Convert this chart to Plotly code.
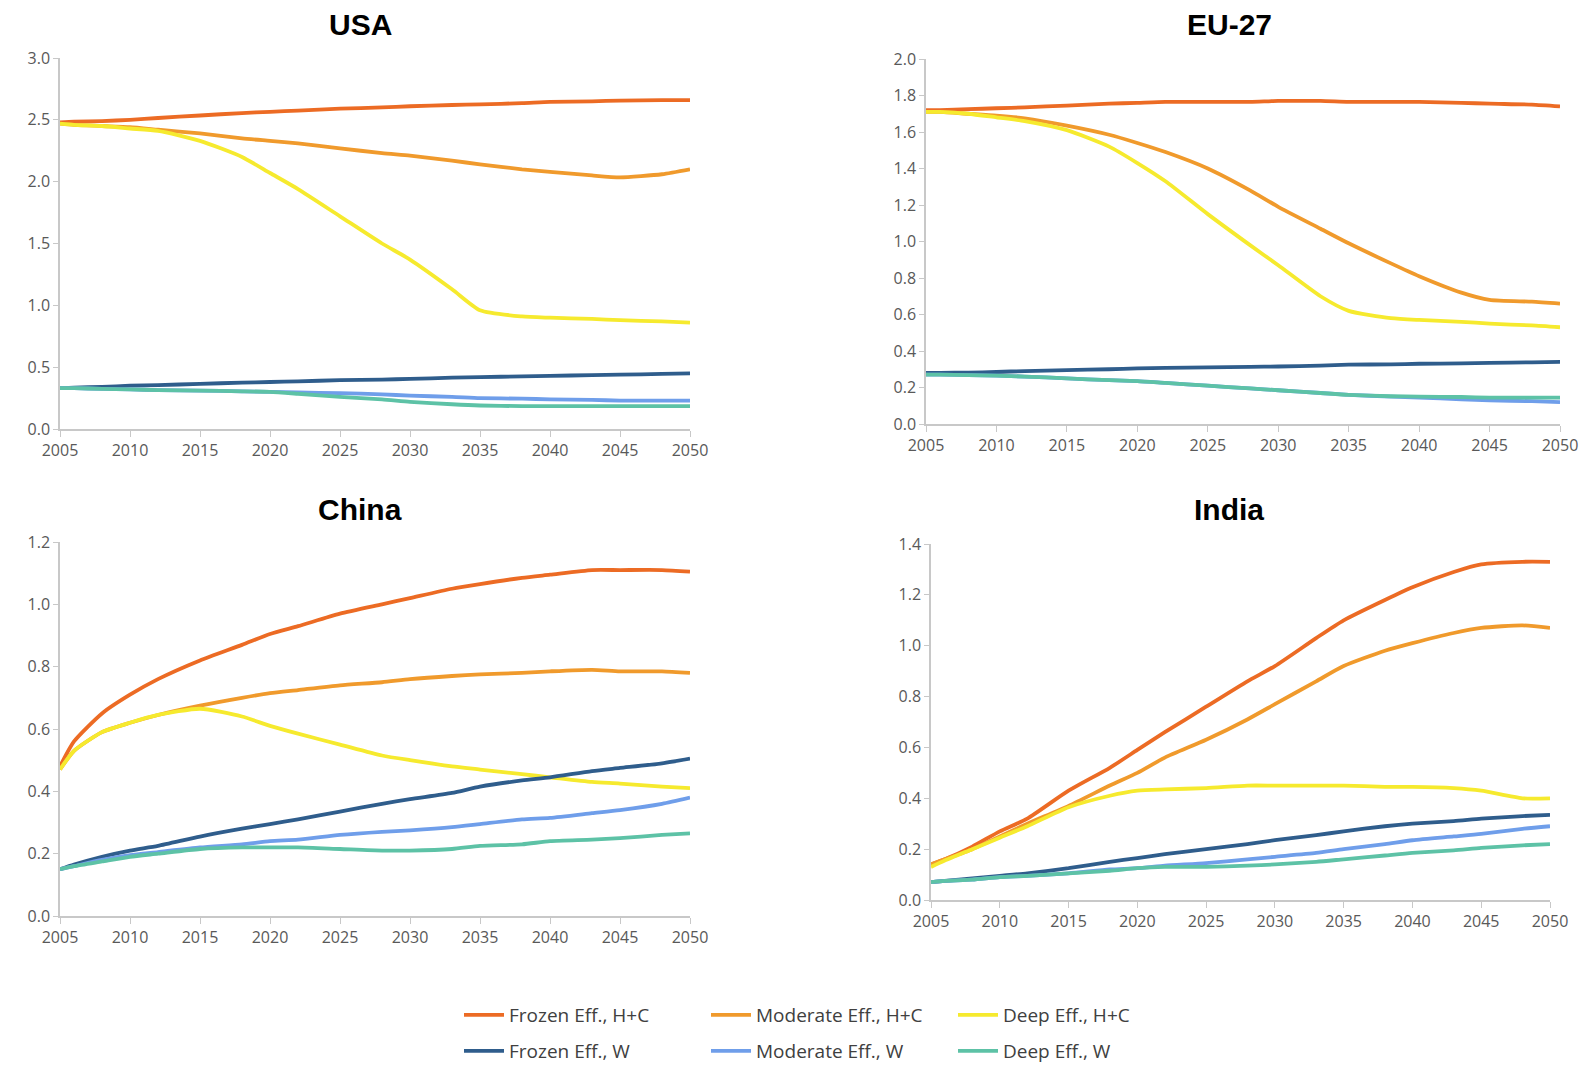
import plotly.graph_objects as go

years = [2005, 2006, 2008, 2010, 2012, 2015, 2018, 2020, 2022, 2025,
         2028, 2030, 2033, 2035, 2038, 2040, 2043, 2045, 2048, 2050]

series_names = ["Frozen Eff., H+C", "Moderate Eff., H+C", "Deep Eff., H+C",
                "Frozen Eff., W", "Moderate Eff., W", "Deep Eff., W"]
series_colors = ["#EC6B24", "#F09A2C", "#F6EA2E", "#2F5D8C", "#6F9EEA", "#5DC2A6"]

# USA
usa_frozen_hc = [2.48, 2.485, 2.49, 2.50, 2.515, 2.535, 2.555, 2.565, 2.575, 2.59,
                 2.60, 2.61, 2.62, 2.625, 2.635, 2.645, 2.65, 2.655, 2.66, 2.66]
usa_moderate_hc = [2.47, 2.46, 2.45, 2.44, 2.42, 2.39, 2.35, 2.33, 2.31, 2.27,
                   2.23, 2.21, 2.17, 2.14, 2.10, 2.08, 2.05, 2.035, 2.06, 2.10]
usa_deep_hc = [2.47, 2.46, 2.45, 2.43, 2.41, 2.33, 2.20, 2.07, 1.94, 1.72,
               1.50, 1.37, 1.13, 0.96, 0.91, 0.90, 0.89, 0.88, 0.87, 0.86]
usa_frozen_w = [0.33, 0.335, 0.34, 0.35, 0.355, 0.365, 0.375, 0.38, 0.385, 0.395,
                0.40, 0.405, 0.415, 0.42, 0.425, 0.43, 0.435, 0.44, 0.445, 0.45]
usa_moderate_w = [0.33, 0.33, 0.325, 0.32, 0.315, 0.31, 0.305, 0.30, 0.295, 0.29,
                  0.28, 0.27, 0.26, 0.25, 0.245, 0.24, 0.235, 0.23, 0.23, 0.23]
usa_deep_w = [0.33, 0.33, 0.325, 0.32, 0.315, 0.31, 0.305, 0.30, 0.285, 0.26,
              0.24, 0.22, 0.20, 0.19, 0.185, 0.185, 0.185, 0.185, 0.185, 0.185]

# EU-27
eu_frozen_hc = [1.72, 1.72, 1.725, 1.73, 1.735, 1.745, 1.755, 1.76, 1.765, 1.765,
                1.765, 1.77, 1.77, 1.765, 1.765, 1.765, 1.76, 1.755, 1.75, 1.74]
eu_moderate_hc = [1.71, 1.71, 1.70, 1.69, 1.675, 1.635, 1.585, 1.54, 1.49, 1.40,
                  1.28, 1.19, 1.07, 0.99, 0.88, 0.81, 0.72, 0.68, 0.67, 0.66]
eu_deep_hc = [1.71, 1.71, 1.70, 1.68, 1.66, 1.61, 1.52, 1.43, 1.33, 1.15,
              0.98, 0.87, 0.70, 0.62, 0.58, 0.57, 0.56, 0.55, 0.54, 0.53]
eu_frozen_w = [0.28, 0.28, 0.282, 0.285, 0.29, 0.295, 0.30, 0.305, 0.307, 0.31,
               0.313, 0.315, 0.32, 0.325, 0.327, 0.33, 0.332, 0.335, 0.338, 0.34]
eu_moderate_w = [0.27, 0.27, 0.268, 0.265, 0.26, 0.25, 0.24, 0.235, 0.225, 0.21,
                 0.195, 0.185, 0.17, 0.16, 0.15, 0.145, 0.135, 0.13, 0.125, 0.12]
eu_deep_w = [0.27, 0.27, 0.268, 0.265, 0.26, 0.25, 0.24, 0.235, 0.225, 0.21,
             0.195, 0.185, 0.17, 0.16, 0.152, 0.15, 0.148, 0.145, 0.145, 0.145]

# China
china_frozen_hc = [0.48, 0.56, 0.65, 0.71, 0.76, 0.82, 0.87, 0.905, 0.93, 0.97,
                   1.00, 1.02, 1.05, 1.065, 1.085, 1.095, 1.11, 1.11, 1.11, 1.105]
china_moderate_hc = [0.47, 0.53, 0.59, 0.62, 0.645, 0.675, 0.70, 0.715, 0.725, 0.74,
                     0.75, 0.76, 0.77, 0.775, 0.78, 0.785, 0.79, 0.785, 0.785, 0.78]
china_deep_hc = [0.47, 0.53, 0.59, 0.62, 0.645, 0.665, 0.64, 0.61, 0.585, 0.55,
                 0.515, 0.50, 0.48, 0.47, 0.455, 0.445, 0.43, 0.425, 0.415, 0.41]
china_frozen_w = [0.15, 0.165, 0.19, 0.21, 0.225, 0.255, 0.28, 0.295, 0.31, 0.335,
                  0.36, 0.375, 0.395, 0.415, 0.435, 0.445, 0.465, 0.475, 0.49, 0.505]
china_moderate_w = [0.15, 0.16, 0.18, 0.195, 0.205, 0.22, 0.23, 0.24, 0.245, 0.26,
                    0.27, 0.275, 0.285, 0.295, 0.31, 0.315, 0.33, 0.34, 0.36, 0.38]
china_deep_w = [0.15, 0.16, 0.175, 0.19, 0.20, 0.215, 0.22, 0.22, 0.22, 0.215,
                0.21, 0.21, 0.215, 0.225, 0.23, 0.24, 0.245, 0.25, 0.26, 0.265]

# India
india_frozen_hc = [0.14, 0.16, 0.21, 0.27, 0.32, 0.43, 0.52, 0.59, 0.66, 0.76,
                   0.86, 0.92, 1.03, 1.10, 1.18, 1.23, 1.29, 1.32, 1.33, 1.33]
india_moderate_hc = [0.14, 0.16, 0.20, 0.25, 0.30, 0.37, 0.45, 0.50, 0.56, 0.63,
                     0.71, 0.77, 0.86, 0.92, 0.98, 1.01, 1.05, 1.07, 1.08, 1.07]
india_deep_hc = [0.13, 0.155, 0.20, 0.245, 0.29, 0.365, 0.41, 0.43, 0.435, 0.44,
                 0.45, 0.45, 0.45, 0.45, 0.445, 0.445, 0.44, 0.43, 0.40, 0.40]
india_frozen_w = [0.07, 0.075, 0.085, 0.095, 0.105, 0.125, 0.15, 0.165, 0.18, 0.20,
                  0.22, 0.235, 0.255, 0.27, 0.29, 0.30, 0.31, 0.32, 0.33, 0.335]
india_moderate_w = [0.07, 0.075, 0.08, 0.09, 0.095, 0.105, 0.12, 0.125, 0.135, 0.145,
                    0.16, 0.17, 0.185, 0.20, 0.22, 0.235, 0.25, 0.26, 0.28, 0.29]
india_deep_w = [0.07, 0.075, 0.08, 0.09, 0.095, 0.105, 0.115, 0.125, 0.13, 0.13,
                0.135, 0.14, 0.15, 0.16, 0.175, 0.185, 0.195, 0.205, 0.215, 0.22]

regions = ["USA", "EU-27", "China", "India"]
region_data = [
    [usa_frozen_hc, usa_moderate_hc, usa_deep_hc, usa_frozen_w, usa_moderate_w, usa_deep_w],
    [eu_frozen_hc, eu_moderate_hc, eu_deep_hc, eu_frozen_w, eu_moderate_w, eu_deep_w],
    [china_frozen_hc, china_moderate_hc, china_deep_hc, china_frozen_w, china_moderate_w, china_deep_w],
    [india_frozen_hc, india_moderate_hc, india_deep_hc, india_frozen_w, india_moderate_w, india_deep_w],
]
y_ranges = [[0, 3.0], [0, 2.0], [0, 1.2], [0, 1.4]]
y_dticks = [0.5, 0.2, 0.2, 0.2]
x_ticks = [2005, 2010, 2015, 2020, 2025, 2030, 2035, 2040, 2045, 2050]

W, H = 1592, 1065
OFF = 8  # page body margin offset
# plot areas in screen pixels: (left, right, top, bottom)
boxes = [(60, 690, 58, 429), (926, 1560, 59, 424), (60, 690, 542, 916), (931, 1550, 544, 900)]
title_pos = [(360, 24), (1229, 24), (360, 509), (1229, 509)]


def px(v):
    return (v - OFF) / W


def py(v):
    return 1 - (v - OFF) / H


fig = go.Figure()
tick_font = dict(family="Open Sans, sans-serif", size=16, color="#595959")
axis_color = "#C8C8C8"

for i, (region, data) in enumerate(zip(regions, region_data)):
    xa = "x" if i == 0 else f"x{i+1}"
    ya = "y" if i == 0 else f"y{i+1}"
    for j, (name, color, vals) in enumerate(zip(series_names, series_colors, data)):
        fig.add_trace(go.Scatter(
            x=years, y=vals, mode="lines", name=name,
            line=dict(color=color, width=3.8, shape="spline", smoothing=0.6),
            xaxis=xa, yaxis=ya,
            showlegend=(i == 0),
            legend="legend" if j < 3 else "legend2",
        ))
    l, r, t, b = boxes[i]
    xkey = "xaxis" if i == 0 else f"xaxis{i+1}"
    ykey = "yaxis" if i == 0 else f"yaxis{i+1}"
    fig.update_layout(**{
        xkey: dict(domain=[px(l), px(r)], anchor=ya, range=[2005, 2050],
                   tickvals=x_ticks, showgrid=False, zeroline=False, automargin=False,
                   showline=True, linecolor=axis_color, linewidth=1.5,
                   ticks="outside", ticklen=6, tickcolor=axis_color,
                   tickfont=tick_font),
        ykey: dict(domain=[py(b), py(t)], anchor=xa, range=y_ranges[i],
                   dtick=y_dticks[i], tick0=0, tickformat=".1f",
                   showgrid=False, zeroline=False, automargin=False,
                   showline=True, linecolor=axis_color, linewidth=1.5,
                   ticks="outside", ticklen=5, tickcolor=axis_color,
                   tickfont=tick_font),
    })
    tx, ty = title_pos[i]
    fig.add_annotation(x=px(tx), y=py(ty), xref="paper", yref="paper",
                       text=f"<b>{region}</b>", showarrow=False,
                       font=dict(family="Liberation Sans, Arial, sans-serif", size=30, color="#000000"),
                       xanchor="center", yanchor="middle", borderpad=0)

legend_font = dict(family="Open Sans, sans-serif", size=19, color="#404040")
fig.update_layout(
    width=W, height=H,
    margin=dict(l=0, r=0, t=0, b=0, autoexpand=False),
    paper_bgcolor="white", plot_bgcolor="white",
    legend=dict(orientation="h", x=px(459), y=py(1015), xanchor="left", yanchor="middle",
                entrywidth=192, entrywidthmode="pixels", font=legend_font,
                bgcolor="rgba(0,0,0,0)", itemwidth=40),
    legend2=dict(orientation="h", x=px(459), y=py(1051), xanchor="left", yanchor="middle",
                 entrywidth=192, entrywidthmode="pixels", font=legend_font,
                 bgcolor="rgba(0,0,0,0)", itemwidth=40),
)

fig.write_html("out.html")
